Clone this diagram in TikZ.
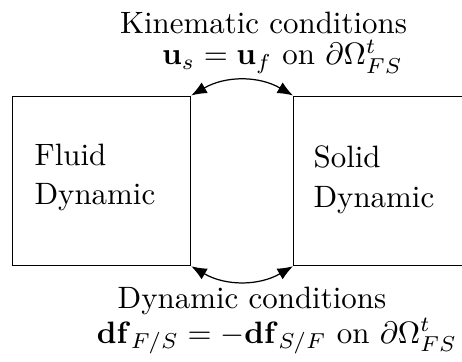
\documentclass[tikz,border=0pt]{standalone}
\usetikzlibrary{arrows.meta}
\begin{document}
\begin{tikzpicture}[x=0.3235pt,y=-0.3235pt,
  lbl/.style={inner sep=0pt,anchor=base west},
  ctr/.style={inner sep=0pt,anchor=base},
  boxnode/.style={draw,line width=0.4pt,inner sep=0pt,anchor=north west},
  link/.style={{Latex[length=5pt,width=4pt]}-{Latex[length=5pt,width=4pt]},line width=0.4pt}]
\useasboundingbox (0,0) rectangle (462,362);
\clip (0,0) rectangle (462,362);
\node[boxnode,minimum width=178*0.3235pt,minimum height=169.5*0.3235pt] (fluid) at (12,95.5) {};
\node[boxnode,minimum width=200*0.3235pt,minimum height=169.5*0.3235pt] (solid) at (293,95.5) {};
\node[lbl] (fl1) at (34,165) {Fluid};
\node[lbl] (fl2) at (34,204) {Dynamic};
\node[lbl] (so1) at (313,167) {Solid};
\node[lbl] (so2) at (313,207) {Dynamic};
\node[ctr] (kin) at (263.5,33) {Kinematic conditions};
\node[ctr] (kinm) at (282.5,65) {$\mathbf{u}_s=\mathbf{u}_f$ on $\partial\Omega^t_{FS}$};
\node[ctr] (dyn) at (252,308) {Dynamic conditions};
\node[ctr] (dynm) at (277,343) {$\mathbf{df}_{F/S}=-\mathbf{df}_{S/F}$ on $\partial\Omega^t_{FS}$};
\draw[link] (fluid.north east) to[bend left=30] (solid.north west);
\draw[link] (fluid.south east) to[bend right=30] (solid.south west);
\end{tikzpicture}
\end{document}
